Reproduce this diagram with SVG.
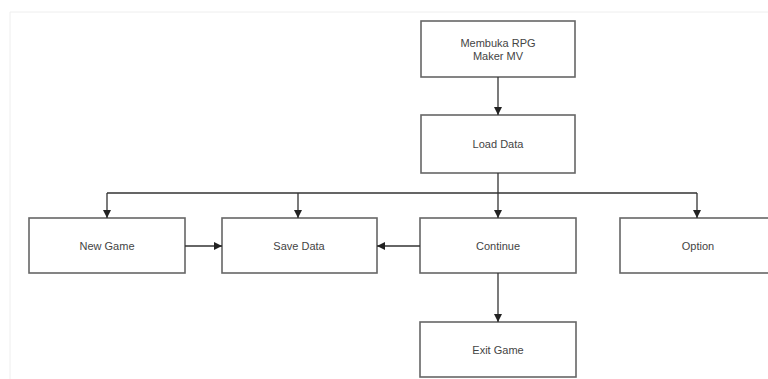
<svg xmlns="http://www.w3.org/2000/svg" width="768" height="379" viewBox="0 0 768 379">
<defs>
<marker id="ah" markerWidth="10" markerHeight="10" refX="9" refY="5" orient="auto" markerUnits="userSpaceOnUse">
<path d="M1,1 L9,5 L1,9 Z" fill="#222"/>
</marker>
<style>
.box{fill:#fff;stroke:#666;stroke-width:1.6}
.lbl{font-family:"Liberation Sans",Arial,sans-serif;font-size:11px;fill:#444;text-anchor:middle}
.ln{fill:none;stroke:#333;stroke-width:1.3}
.arr{fill:none;stroke:#333;stroke-width:1.3;marker-end:url(#ah)}
</style>
</defs>
<rect width="768" height="379" fill="#fff"/>
<path d="M10,379 V12 H768" fill="none" stroke="#eee" stroke-width="1"/>
<g id="n-membuka"><rect class="box" x="421" y="21" width="154" height="56"/><text class="lbl" x="498" y="47">Membuka RPG</text><text class="lbl" x="498" y="60">Maker MV</text></g>
<g id="n-load"><rect class="box" x="421" y="115" width="154" height="58"/><text class="lbl" x="498" y="148">Load Data</text></g>
<g id="n-new"><rect class="box" x="29" y="218" width="156" height="55"/><text class="lbl" x="107" y="250">New Game</text></g>
<g id="n-save"><rect class="box" x="222" y="218" width="155" height="55"/><text class="lbl" x="299" y="250">Save Data</text></g>
<g id="n-continue"><rect class="box" x="420" y="218" width="156" height="55"/><text class="lbl" x="498" y="250">Continue</text></g>
<g id="n-option"><rect class="box" x="620" y="218" width="156" height="55"/><text class="lbl" x="698" y="250">Option</text></g>
<g id="n-exit"><rect class="box" x="420" y="322" width="156" height="55"/><text class="lbl" x="498" y="354">Exit Game</text></g>
<g id="connectors">
<path class="arr" d="M498,77 V115"/>
<path class="ln" d="M498,173 V193 M107,193 H697"/>
<path class="arr" d="M107,193 V218"/>
<path class="arr" d="M298,193 V218"/>
<path class="arr" d="M498,193 V218"/>
<path class="arr" d="M697,193 V218"/>
<path class="arr" d="M185,246 H222"/>
<path class="arr" d="M420,246 H377"/>
<path class="arr" d="M498,273 V322"/>
</g>
</svg>
